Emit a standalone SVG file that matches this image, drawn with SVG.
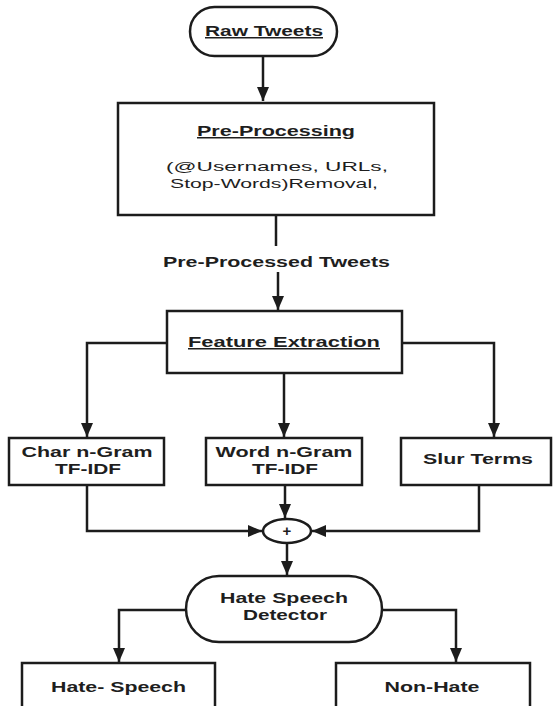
<svg xmlns="http://www.w3.org/2000/svg" width="553" height="706" viewBox="0 0 553 706">
<defs>
<style>
.n{fill:#fff;stroke:#1c1c1c;stroke-width:2.5}
.c{fill:none;stroke:#1c1c1c;stroke-width:2.5}
.t{font-family:"Liberation Sans",Arial,sans-serif;font-weight:bold;font-size:15px;fill:#1e1e1e;text-anchor:middle}
.r{font-family:"Liberation Sans",Arial,sans-serif;font-size:13px;fill:#1e1e1e;text-anchor:middle}
.u{text-decoration:underline}
</style>
<marker id="ah" viewBox="0 0 14 12" refX="14" refY="6" markerWidth="14" markerHeight="12" markerUnits="userSpaceOnUse" orient="auto">
<path d="M0,0 L14,6 L0,12 z" fill="#1c1c1c"/>
</marker>
</defs>
<rect width="553" height="706" fill="#fff"/>
<g id="connectors">
<path class="c" d="M263,56 V101" marker-end="url(#ah)"/>
<path class="c" d="M276,215 V246"/>
<path class="c" d="M278,272 V310" marker-end="url(#ah)"/>
<path class="c" d="M167,343 H87 V437" marker-end="url(#ah)"/>
<path class="c" d="M284,373 V437" marker-end="url(#ah)"/>
<path class="c" d="M402,343 H494 V437" marker-end="url(#ah)"/>
<path class="c" d="M87,485 V531 H262" marker-end="url(#ah)"/>
<path class="c" d="M285,485 V518" marker-end="url(#ah)"/>
<path class="c" d="M479,485 V531 H312" marker-end="url(#ah)"/>
<path class="c" d="M287,543 V575" marker-end="url(#ah)"/>
<path class="c" d="M186,610 H119 V662" marker-end="url(#ah)"/>
<path class="c" d="M382,610 H456 V662" marker-end="url(#ah)"/>
</g>
<g id="raw-tweets">
<rect class="n" x="190" y="7" width="147" height="49" rx="24.5"/>
<text class="t u" x="264" y="36" textLength="118" lengthAdjust="spacingAndGlyphs">Raw Tweets</text>
</g>
<g id="pre-processing">
<rect class="n" x="118" y="103" width="316" height="112"/>
<text class="t u" x="276" y="136" font-size="14" textLength="158" lengthAdjust="spacingAndGlyphs">Pre-Processing</text>
<text class="r" x="277" y="171" textLength="222" lengthAdjust="spacingAndGlyphs">(@Usernames,  URLs,</text>
<text class="r" x="274" y="188" textLength="208" lengthAdjust="spacingAndGlyphs">Stop-Words)Removal,</text>
</g>
<g id="pre-processed-label">
<text class="t" x="276.5" y="267" font-size="14" textLength="227" lengthAdjust="spacingAndGlyphs">Pre-Processed Tweets</text>
</g>
<g id="feature-extraction">
<rect class="n" x="167" y="311" width="235" height="62"/>
<text class="t u" x="284" y="347" font-size="14" textLength="192" lengthAdjust="spacingAndGlyphs">Feature Extraction</text>
</g>
<g id="char-ngram">
<rect class="n" x="9" y="438" width="155" height="47"/>
<text class="t" x="87" y="457" textLength="131" lengthAdjust="spacingAndGlyphs">Char n-Gram</text>
<text class="t" x="88" y="474" textLength="66" lengthAdjust="spacingAndGlyphs">TF-IDF</text>
</g>
<g id="word-ngram">
<rect class="n" x="206" y="438" width="156" height="47"/>
<text class="t" x="284" y="457" textLength="137" lengthAdjust="spacingAndGlyphs">Word n-Gram</text>
<text class="t" x="285" y="474" textLength="66" lengthAdjust="spacingAndGlyphs">TF-IDF</text>
</g>
<g id="slur-terms">
<rect class="n" x="401" y="438" width="150" height="47"/>
<text class="t" x="478" y="464" textLength="110" lengthAdjust="spacingAndGlyphs">Slur Terms</text>
</g>
<g id="combine">
<ellipse class="n" cx="287" cy="531" rx="24" ry="12"/>
<text class="t" x="287" y="535.5" font-size="12">+</text>
</g>
<g id="detector">
<rect class="n" x="186" y="576" width="196" height="66" rx="33"/>
<text class="t" x="284" y="603" textLength="128" lengthAdjust="spacingAndGlyphs">Hate Speech</text>
<text class="t" x="285" y="620" textLength="84" lengthAdjust="spacingAndGlyphs">Detector</text>
</g>
<g id="hate-speech">
<rect class="n" x="22" y="663" width="193" height="60"/>
<text class="t" x="118.5" y="692" textLength="135" lengthAdjust="spacingAndGlyphs">Hate- Speech</text>
</g>
<g id="non-hate">
<rect class="n" x="336" y="663" width="194" height="60"/>
<text class="t" x="432" y="692" textLength="95" lengthAdjust="spacingAndGlyphs">Non-Hate</text>
</g>
</svg>
